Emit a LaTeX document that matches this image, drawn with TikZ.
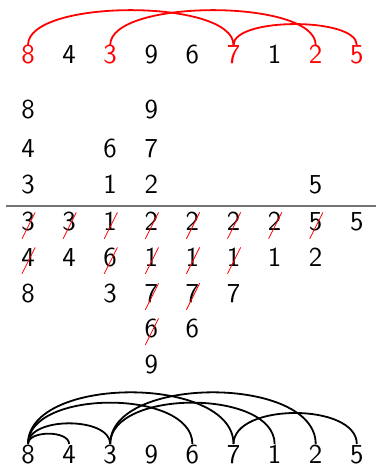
\documentclass[tikz,border=0pt]{standalone}
\usepackage{tikz}

\begin{document}
\begin{tikzpicture}[x=0.5pt, y=-0.5pt,
    digit/.style={font=\fontsize{13.7}{16}\sffamily, text height=0.7em,
                  text depth=0pt, inner sep=2.3pt},
    hot/.style={digit, text=red},
    strike/.style={red, line width=0.4pt},
    rule/.style={black!55, line width=0.7pt},
    toparc/.style={red, line width=0.9pt, out=90, in=90, looseness=0.58},
    botarc/.style={black, line width=0.9pt, out=90, in=90, looseness=0.86}
]
\useasboundingbox (0,0) rectangle (376,469);

% sequence on top, with the chosen ones in red
\foreach \v/\s [count=\i] in {8/hot,4/digit,3/hot,9/digit,6/digit,7/hot,1/digit,2/hot,5/hot}
    \node[\s] (t\i) at ({28+41.1*(\i-1)},57) {\v};

% stacks above the rule (rows 1-3) and below it (rows 4-8)
\foreach \c/\r/\v in {1/1/8, 4/1/9,
                      1/2/4, 3/2/6, 4/2/7,
                      1/3/3, 3/3/1, 4/3/2, 8/3/5,
                      1/4/3, 2/4/3, 3/4/1, 4/4/2, 5/4/2, 6/4/2, 7/4/2, 8/4/5, 9/4/5,
                      1/5/4, 2/5/4, 3/5/6, 4/5/1, 5/5/1, 6/5/1, 7/5/1, 8/5/2,
                      1/6/8, 3/6/3, 4/6/7, 5/6/7, 6/6/7,
                      4/7/6, 5/7/6,
                      4/8/9}
{
    \pgfmathsetmacro\ry{{112,151,187,224,259,295,330,366}[\r-1]}
    \node[digit] (m\c-\r) at ({28+41.1*(\c-1)},\ry) {\v};
}

\draw[rule] (6,206) -- (376,206);

% crossed-out entries
\foreach \n in {m1-4, m2-4, m3-4, m4-4, m5-4, m6-4, m7-4, m8-4,
                m1-5, m3-5, m4-5, m5-5, m6-5,
                m4-6, m5-6,
                m4-7}
    \draw[strike] ([shift={(-3pt,-7.4pt)}]\n.center) -- ++(6.6pt,13.2pt);

% sequence at the bottom
\foreach \v [count=\i] in {8,4,3,9,6,7,1,2,5}
    \node[digit] (b\i) at ({28+41.1*(\i-1)},456) {\v};

% red links on top
\draw[toparc] (t1.north) to (t6.north);
\draw[toparc] (t3.north) to (t8.north);
\draw[toparc] (t6.north) to (t9.north);

% black links at the bottom
\foreach \a/\b in {1/2, 1/3, 1/5, 1/6, 3/7, 3/8, 6/9}
    \draw[botarc] (b\a.north) to (b\b.north);
\end{tikzpicture}
\end{document}
